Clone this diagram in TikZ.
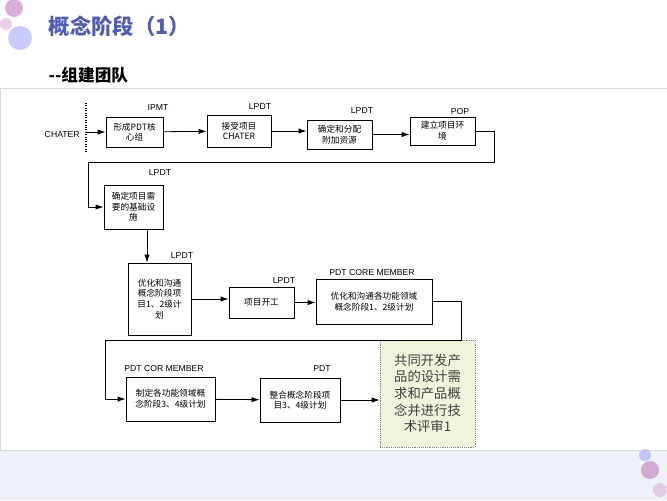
\documentclass[tikz,border=0pt]{standalone}
\usepackage{fontspec}
\setmainfont{Liberation Sans}
\newfontfamily\cjk{Noto Sans CJK SC}
\usetikzlibrary{arrows.meta}
\definecolor{titleblue}{HTML}{4F5BB8}
\definecolor{notegreen}{HTML}{EEF5DC}
\definecolor{bandgray}{HTML}{EEF1F7}

\begin{document}
\begin{tikzpicture}[x=0.75pt, y=-0.75pt]
    \tikzset{
        task/.style={draw, line width=0.6pt, font=\cjk\fontsize{6.5}{8}\selectfont,
            align=center, inner sep=1pt},
        size/.style 2 args={minimum width=#1*0.75pt, minimum height=#2*0.75pt},
        role/.style={font=\fontsize{6.5}{7}\selectfont, inner sep=0pt},
        flow/.style={line width=0.6pt, -{Latex[length=6pt, width=4pt]}},
    }

    % Page
    \useasboundingbox (0,0) rectangle (667,500);
    \fill[bandgray] (0,450) rectangle (667,500);
    \draw[black!15] (0,88) rectangle (667,450);
    \fill[violet!45, opacity=0.7] (14,8) circle (9);
    \fill[blue!30, opacity=0.7] (20,38) circle (12);
    \fill[violet!30, opacity=0.6] (6,24) circle (6);
    \fill[violet!45, opacity=0.7] (650,470) circle (9);
    \fill[blue!30, opacity=0.7] (645,455) circle (6);
    \fill[violet!30, opacity=0.6] (660,490) circle (7);

    % Titles
    \node[anchor=west, font=\cjk\bfseries\fontsize{16}{18}\selectfont, text=titleblue] (title) at (44,26) {概念阶段（1）};
    \node[anchor=west, font=\cjk\bfseries\fontsize{12.5}{14}\selectfont] (subtitle) at (44,75) {--组建团队};

    % Tasks
    \node[task, size={57}{30}] (core) at (134.5,132) {形成PDT核\\心组};
    \node[task, size={64}{32}] (accept) at (239,131) {接受项目\\CHATER};
    \node[task, size={65}{29}] (assign) at (339.5,134.5) {确定和分配\\附加资源};
    \node[task, size={65}{28}] (env) at (442.5,131) {建立项目环\\境};
    \node[task, size={59}{44}] (infra) at (133.5,207) {确定项目需\\要的基础设\\施};
    \node[task, size={63}{72}] (plan12) at (159.5,299) {优化和沟通\\概念阶段项\\目1、2级计\\划};
    \node[task, size={65}{31}] (kickoff) at (261.5,302.5) {项目开工};
    \node[task, size={116}{45}] (func12) at (374,301.5) {优化和沟通各功能领域\\概念阶段1、2级计划};
    \node[task, size={89}{44}] (func34) at (170.5,399) {制定各功能领域概\\念阶段3、4级计划};
    \node[task, size={80}{44}] (plan34) at (300,400) {整合概念阶段项\\目3、4级计划};
    \node[draw=black!50, densely dotted, fill=notegreen, size={95}{107},
        align=center, text=black!75, font=\cjk\fontsize{10}{12.5}\selectfont] (review) at (427.5,393.5)
        {共同开发产\\品的设计需\\求和产品概\\念并进行技\\术评审1};

    % Roles
    \node[role] (r-core) at (158,108) {IPMT};
    \node[role] (r-accept) at (260,107) {LPDT};
    \node[role] (r-assign) at (362,111) {LPDT};
    \node[role] (r-env) at (460,112) {POP};
    \node[role] (r-infra) at (160,173) {LPDT};
    \node[role] (r-plan12) at (182,256) {LPDT};
    \node[role] (r-kickoff) at (284,281) {LPDT};
    \node[role] (r-func12) at (372,273) {PDT CORE MEMBER};
    \node[role] (r-func34) at (164,369) {PDT COR MEMBER};
    \node[role] (r-plan34) at (322,369) {PDT};

    % Start
    \node[role, anchor=east] (chater) at (80,135) {CHATER};
    \draw[densely dotted, line width=0.8pt] (86,103) -- (86,152);
    \coordinate (start) at (86,132);

    % Arrows
    \draw[flow] (start) -- (core);
    \draw[flow] (core) -- (accept);
    \draw[flow] (accept.east) -- (assign.west |- accept.east);
    \draw[flow] (assign.east) -- (env.west |- assign.east);
    \draw[flow] (env.east) -- ++(19,0) |- (88,162) |- (infra.west);
    \draw[flow] (infra.south -| 147,0) -- (plan12.north -| 147,0);
    \draw[flow] (plan12.east) -- (kickoff.west |- plan12.east);
    \draw[flow] (kickoff) -- (kickoff -| func12.west);
    \draw[flow] (func12.east) -- ++(29,0) |- (105,340) |- (func34.west);
    \draw[flow] (func34) -- (plan34);
    \draw[flow] (plan34) -- (plan34 -| review.west);
\end{tikzpicture}
\end{document}
